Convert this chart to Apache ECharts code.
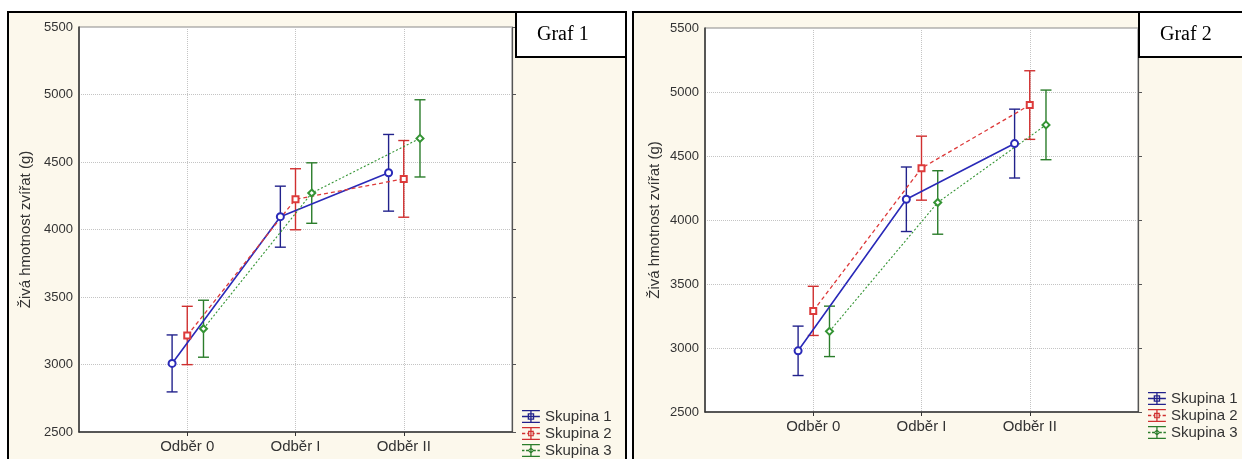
<!DOCTYPE html>
<html><head><meta charset="utf-8">
<script src="https://cdn.jsdelivr.net/npm/echarts@6/dist/echarts.min.js"></script>
<style>html,body{margin:0;padding:0;background:#fff;overflow:hidden}#c{width:1242px;height:459px}</style>
</head><body><div id="c"></div><script>
// ---- data ----
const categories = ['Odběr 0', 'Odběr I', 'Odběr II'];
const groups = ['Skupina 1', 'Skupina 2', 'Skupina 3'];
const yAxisName = 'Živá hmotnost zvířat (g)';
const panelTitles = ['Graf 1', 'Graf 2'];
const yMin = 2500, yMax = 5500, yStep = 500;

// Graf 1
const graf1_s1_mean = [3008, 4095, 4420];
const graf1_s1_err  = [211, 226, 284];
const graf1_s2_mean = [3215, 4224, 4375];
const graf1_s2_err  = [216, 226, 284];
const graf1_s3_mean = [3265, 4270, 4675];
const graf1_s3_err  = [211, 224, 286];
// Graf 2
const graf2_s1_mean = [2978, 4162, 4597];
const graf2_s1_err  = [193, 252, 269];
const graf2_s2_mean = [3290, 4405, 4898];
const graf2_s2_err  = [192, 250, 268];
const graf2_s3_mean = [3130, 4137, 4743];
const graf2_s3_err  = [197, 248, 272];

// ---- styles ----
const offsets = [-0.14, 0, 0.15];
const lineColors = ['#2a2ab8', '#dd3a3a', '#349434'];
const barColors = ['#22228c', '#d03030', '#2b7d2b'];
const lineTypes = ['solid', [4, 3], [2, 2]];
const lineWidths = [1.6, 1.3, 1.1];
const symbols = ['emptyCircle', 'emptyRect', 'emptyDiamond'];
const symbolSizes = [7, 6, 7];

const mid = ['M0 7.2H22V8.8H0Z', 'M0 7.2H4V8.8H0ZM6.5 7.2H9V8.8H6.5ZM13 7.2H15.5V8.8H13ZM18 7.2H22V8.8H18Z', 'M0 7.2H3V8.8H0ZM5 7.2H8V8.8H5ZM14 7.2H17V8.8H14ZM19 7.2H22V8.8H19Z'];
const marks = [
  'M7 4H15V12H7ZM8.6 5.6V10.4H13.4V5.6Z',
  'M7.5 4.5H14.5V11.5H7.5ZM9 6V10H13V6Z',
  'M11 4L15 8L11 12L7 8ZM11 5.8L8.8 8L11 10.2L13.2 8Z'
];
const icons = [0,1,2].map(g => 'path://M0 0H22V1.6H0ZM0 14.4H22V16H0ZM10.2 0H11.8V16H10.2Z' + mid[g] + marks[g]);

const panels = [
  {grid: {left: 79, top: 27, width: 433, height: 405}, means: [graf1_s1_mean, graf1_s2_mean, graf1_s3_mean], errs: [graf1_s1_err, graf1_s2_err, graf1_s3_err], legend: {left: 522, top: 409}, nameGap: 46, frame: {x: 8, w: 618}, box: {x: 516, w: 110}},
  {grid: {left: 705, top: 28, width: 433, height: 384}, means: [graf2_s1_mean, graf2_s2_mean, graf2_s3_mean], errs: [graf2_s1_err, graf2_s2_err, graf2_s3_err], legend: {left: 1148, top: 391}, nameGap: 43, frame: {x: 633, w: 640}, box: {x: 1139, w: 130}}
];

const grid = [], xAxis = [], yAxis = [], series = [], legend = [], graphic = [];
const font = 'Liberation Sans, Arial, sans-serif';

panels.forEach((p, ci) => {
  grid.push(Object.assign({show: true, backgroundColor: '#fff', borderColor: '#8a8a8a', borderWidth: 1, containLabel: false}, p.grid));
  xAxis.push({
    type: 'value', gridIndex: ci, min: 0, max: categories.length + 1, interval: 1,
    axisLine: {show: true, lineStyle: {color: '#333', width: 1.5}},
    axisTick: {show: true, length: 4, customValues: categories.map((_, i) => i + 1), lineStyle: {color: '#333'}},
    axisLabel: {customValues: categories.map((_, i) => i + 1), formatter: v => categories[Math.round(v) - 1] || '', color: '#333', fontSize: 15, fontFamily: font, margin: 7},
    splitLine: {show: true, lineStyle: {color: '#c4c4c4', type: 'dotted', width: 1}}
  });
  yAxis.push({
    type: 'value', gridIndex: ci, min: yMin, max: yMax, interval: yStep, position: 'left',
    name: yAxisName, nameLocation: 'middle', nameGap: p.nameGap, nameRotate: 90,
    nameTextStyle: {color: '#333', fontSize: 15, fontFamily: font},
    axisLine: {show: true, lineStyle: {color: '#333', width: 1.5}},
    axisTick: {show: false},
    axisLabel: {color: '#333', fontSize: 13, fontFamily: font, margin: 6, formatter: v => String(v)},
    splitLine: {show: true, lineStyle: {color: '#c4c4c4', type: 'dotted', width: 1}}
  });
  yAxis.push({
    type: 'value', gridIndex: ci, min: yMin, max: yMax, interval: yStep, position: 'right',
    axisLine: {show: true, lineStyle: {color: '#555', width: 1.2}},
    axisTick: {show: true, length: 4, lineStyle: {color: '#555'}},
    axisLabel: {show: false}, splitLine: {show: false}
  });
  groups.forEach((name, g) => {
    const means = p.means[g], errs = p.errs[g];
    series.push({
      type: 'custom', name, xAxisIndex: ci, yAxisIndex: ci * 2, z: 2,
      encode: {x: 0, y: [1, 2]},
      data: means.map((m, i) => [i + 1 + offsets[g], m - errs[i], m + errs[i]]),
      renderItem: (params, api) => {
        const x = api.value(0);
        const lo = api.coord([x, api.value(1)]), hi = api.coord([x, api.value(2)]);
        const w = 5.5, st = {stroke: barColors[g], lineWidth: 1.4};
        return {type: 'group', children: [
          {type: 'line', shape: {x1: lo[0], y1: lo[1], x2: hi[0], y2: hi[1]}, style: st},
          {type: 'line', shape: {x1: lo[0] - w, y1: lo[1], x2: lo[0] + w, y2: lo[1]}, style: st},
          {type: 'line', shape: {x1: hi[0] - w, y1: hi[1], x2: hi[0] + w, y2: hi[1]}, style: st}
        ]};
      }
    });
    series.push({
      type: 'line', name, xAxisIndex: ci, yAxisIndex: ci * 2, z: 3,
      data: means.map((m, i) => [i + 1 + offsets[g], m]),
      symbol: symbols[g], symbolSize: symbolSizes[g], showAllSymbol: true,
      itemStyle: {color: lineColors[g], borderWidth: 1.4},
      lineStyle: {color: lineColors[g], type: lineTypes[g], width: lineWidths[g]}
    });
  });
  legend.push({
    orient: 'vertical', left: p.legend.left, top: p.legend.top, padding: 0, itemGap: 2,
    itemWidth: 18, itemHeight: 13, selectedMode: false,
    textStyle: {color: '#333', fontSize: 15, fontFamily: font},
    data: groups.map((name, g) => ({name, icon: icons[g], itemStyle: {color: barColors[g], borderWidth: 0}}))
  });
  graphic.push({type: 'rect', z: -10, shape: {x: p.frame.x, y: 12, width: p.frame.w, height: 470}, style: {fill: '#fcf8ec', stroke: '#000', lineWidth: 2}});
  graphic.push({type: 'rect', z: 10, shape: {x: p.box.x, y: 12, width: p.box.w, height: 45}, style: {fill: '#fff', stroke: '#000', lineWidth: 2}});
  graphic.push({type: 'text', z: 11, x: p.box.x + 21, y: 35, style: {text: panelTitles[ci], fill: '#000', font: '20px "Liberation Serif", "Times New Roman", serif', verticalAlign: 'middle'}});
});

const chart = echarts.init(document.getElementById('c'), null, {renderer: 'canvas'});
chart.setOption({animation: false, backgroundColor: '#fff', grid, xAxis, yAxis, series, legend, graphic, tooltip: {show: false}});
</script></body></html>
